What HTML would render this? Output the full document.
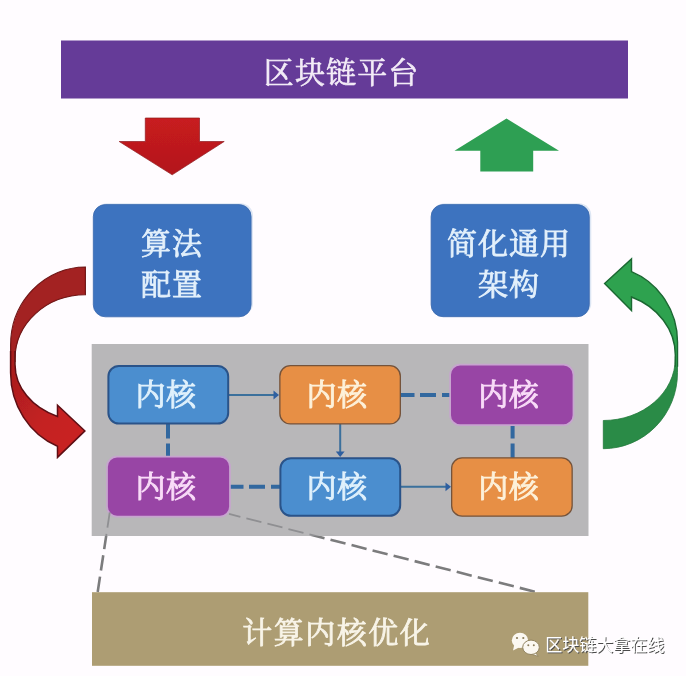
<!DOCTYPE html>
<html lang="zh-CN">
<head>
<meta charset="utf-8">
<title>区块链平台</title>
<style>
  html, body { margin: 0; padding: 0; background: #fffcff; }
  body { width: 686px; height: 676px; overflow: hidden; position: relative; }
  svg { display: block; position: absolute; left: 0; top: 0; }
  .serif { font-family: "Liberation Serif", "Noto Serif CJK SC", serif; }
  .sans { font-family: "Liberation Sans", "Noto Sans CJK SC", sans-serif; }
</style>
</head>
<body>
<svg width="686" height="676" viewBox="0 0 686 676">
  <defs>
    <linearGradient id="gRed" x1="0" y1="0" x2="0" y2="1">
      <stop offset="0" stop-color="#c81b20"/>
      <stop offset="1" stop-color="#b3171b"/>
    </linearGradient>
    <linearGradient id="gRedC" x1="0" y1="0" x2="1" y2="1">
      <stop offset="0" stop-color="#a51d1d"/>
      <stop offset="0.55" stop-color="#c42122"/>
      <stop offset="1" stop-color="#cb2323"/>
    </linearGradient>
    <clipPath id="below"><rect x="0" y="536" width="686" height="140"/></clipPath>
    <clipPath id="inpanel"><rect x="0" y="500" width="686" height="36"/></clipPath>
    <filter id="wm" x="-5%" y="-20%" width="110%" height="140%">
      <feMorphology in="SourceAlpha" operator="dilate" radius="0.35" result="fat"/>
      <feOffset in="fat" dx="0.8" dy="0.9" result="off"/>
      <feFlood flood-color="#4c4c4c" result="col"/>
      <feComposite in="col" in2="off" operator="in" result="shadow"/>
      <feMerge result="m"><feMergeNode in="shadow"/><feMergeNode in="SourceGraphic"/></feMerge>
      <feGaussianBlur in="m" stdDeviation="0.4"/>
    </filter>
    <filter id="soft" x="-5%" y="-5%" width="110%" height="110%">
      <feGaussianBlur stdDeviation="0.45"/>
    </filter>
  </defs>
  <rect x="0" y="0" width="686" height="676" fill="#fffcff"/>

  <g filter="url(#soft)">
  <!-- top banner -->
  <rect x="61" y="40.5" width="567" height="58" fill="#653b98"/>

  <!-- straight arrows -->
  <polygon points="145.3,118 199.5,118 199.5,141.5 224.2,141.5 172.2,174.8 119.2,141.5 145.3,141.5" fill="url(#gRed)" stroke="#8f1a1c" stroke-width="0.7"/>
  <polygon points="506.5,118.6 559,150.7 533.2,150.7 533.2,171.5 480.3,171.5 480.3,150.7 454.5,150.7" fill="#2f9f52"/>

  <!-- big blue boxes -->
  <rect x="94.6" y="203.2" width="158.4" height="112.6" rx="12.5" ry="12.5" fill="#dde6f4"/>
  <rect x="432.4" y="203.2" width="158.9" height="112.6" rx="12.5" ry="12.5" fill="#dde6f4"/>
  <rect x="93.3" y="204.6" width="157.8" height="112.2" rx="12" ry="12" fill="#3d73bf" stroke="#3a68ad" stroke-width="0.8"/>
  <rect x="431.1" y="204.6" width="158.2" height="112.1" rx="12" ry="12" fill="#3d73bf" stroke="#3a68ad" stroke-width="0.8"/>

  <!-- curved arrows -->
  <path d="M15.0,362.0 L15.0,359.0 A70.4,64.3 0 0 1 85.4,294.7 L85.4,267.0 A74.8,78.0 0 0 0 10.6,345.0 L10.6,362.0" fill="#a32020" stroke="#6e1516" stroke-width="1.1" stroke-linejoin="miter"/>
  <path d="M10.6,351.0 L10.6,372.7 A74.8,79.2 0 0 0 57.5,446.2 L57.5,457.4 L84.9,430.9 L57.5,405.3 L57.5,416.5 A70.4,56.8 0 0 1 15.0,364.4 L15.0,351.0" fill="url(#gRedC)" stroke="#5e1013" stroke-width="1.5" stroke-linejoin="miter"/>
  <path d="M675.3,356.5 L675.3,358.5 A72.0,62.0 0 0 1 603.3,420.5 L603.3,448.7 A74.2,76.0 0 0 0 677.5,372.7 L677.5,356.5" fill="#2a8b46" stroke="#237a3c" stroke-width="0.8" stroke-linejoin="miter"/>
  <path d="M677.5,366.7 L677.5,342.0 A74.2,76.0 0 0 0 631.5,271.7 L631.5,258.9 L604.6,283.5 L631.5,310.6 L631.5,297.0 A72.0,63.0 0 0 1 675.3,355.0 L675.3,366.7" fill="#2fa24f" stroke="#1a6731" stroke-width="1.4" stroke-linejoin="miter"/>

  <!-- gray panel -->
  <rect x="91.7" y="344" width="496.8" height="192" fill="#b8b7b9"/>

  <!-- connectors -->
  <g stroke="#3a6f9c" fill="none" stroke-width="2">
    <line x1="229" y1="395" x2="275" y2="395"/>
    <line x1="401" y1="486.8" x2="447" y2="486.8"/>
    <line x1="340.2" y1="424" x2="340.2" y2="453"/>
  </g>
  <g stroke="#33679f" fill="none" stroke-width="4">
    <line x1="400.5" y1="395" x2="451" y2="395" stroke-dasharray="14 5.5 16 6 12"/>
    <line x1="229.5" y1="486.8" x2="280" y2="486.8" stroke-dasharray="14 5.5 16 6 12"/>
    <line x1="168" y1="424" x2="168" y2="458" stroke-dasharray="14.5 5"/>
    <line x1="512.6" y1="424" x2="512.6" y2="458" stroke-dasharray="14.5 5"/>
  </g>
  <g fill="#2f5fa0">
    <polygon points="279,395 273.5,390.6 273.5,399.4"/>
    <polygon points="451,486.8 445.5,482.4 445.5,491.2"/>
    <polygon points="340.2,457 335.8,451.5 344.6,451.5"/>
  </g>

  <!-- kernel boxes -->
  <rect x="108.40" y="366.00" width="119.80" height="57.60" rx="10.5" ry="10.5" fill="#4b8ecf" stroke="#2a5389" stroke-width="2.0"/>
  <rect x="279.85" y="365.65" width="120.50" height="58.30" rx="10.5" ry="10.5" fill="#e78f45" stroke="#75533a" stroke-width="1.3"/>
  <rect x="450.15" y="364.65" width="123.30" height="60.50" rx="10" ry="10" fill="#9845a5" stroke="#c7a4cf" stroke-width="1.7"/>
  <rect x="107.05" y="456.65" width="122.90" height="59.90" rx="10" ry="10" fill="#9845a5" stroke="#c7a4cf" stroke-width="1.7"/>
  <rect x="280.40" y="458.20" width="119.80" height="57.60" rx="10.5" ry="10.5" fill="#4b8ecf" stroke="#2a5389" stroke-width="2.0"/>
  <rect x="451.65" y="457.85" width="120.50" height="58.30" rx="10.5" ry="10.5" fill="#e78f45" stroke="#75533a" stroke-width="1.3"/>

  <!-- gray dashed callout lines -->
  <g stroke="#7b7b7d" stroke-width="2.6" fill="none" stroke-dasharray="15.5 6.2" clip-path="url(#below)">
    <line x1="97.7" y1="592" x2="110.4" y2="508"/>
    <line x1="534.8" y1="591.7" x2="229" y2="513.9"/>
  </g>
  <g stroke="#8f8f92" stroke-width="1.8" fill="none" stroke-dasharray="15.5 6.2" clip-path="url(#inpanel)">
    <line x1="97.7" y1="592" x2="110.4" y2="508"/>
    <line x1="534.8" y1="591.7" x2="229" y2="513.9"/>
  </g>

  <!-- bottom bar -->
  <rect x="92" y="592.2" width="496.3" height="73.6" fill="#ad9d73"/>
  </g>

  <!-- text -->
  <g class="serif" text-anchor="middle" filter="url(#soft)">
    <text x="341.6" y="83" font-size="30" letter-spacing="1.1" fill="#f3ecf7" stroke="#f3ecf7" stroke-width="0.6">区块链平台</text>
    <g fill="#e3f0fb" stroke="#e3f0fb" stroke-width="0.8" font-size="30" letter-spacing="1">
      <text x="172" y="253.6">算法</text>
      <text x="172" y="295.3">配置</text>
      <text x="509" y="253.6">简化通用</text>
      <text x="509" y="295.3">架构</text>
    </g>
    <text x="166.0" y="405.0" font-size="30" letter-spacing="0.6" fill="#e0f1fc" stroke="#e0f1fc" stroke-width="0.9">内核</text>
    <text x="337.0" y="405.0" font-size="30" letter-spacing="0.6" fill="#fdf1da" stroke="#fdf1da" stroke-width="0.9">内核</text>
    <text x="508.8" y="405.0" font-size="30" letter-spacing="0.6" fill="#f9dcf8" stroke="#f9dcf8" stroke-width="0.9">内核</text>
    <text x="166.0" y="497.0" font-size="30" letter-spacing="0.6" fill="#f9dcf8" stroke="#f9dcf8" stroke-width="0.9">内核</text>
    <text x="337.0" y="497.0" font-size="30" letter-spacing="0.6" fill="#e0f1fc" stroke="#e0f1fc" stroke-width="0.9">内核</text>
    <text x="508.8" y="497.0" font-size="30" letter-spacing="0.6" fill="#fdf1da" stroke="#fdf1da" stroke-width="0.9">内核</text>
    <text x="336.8" y="643" font-size="30" letter-spacing="1.5" fill="#f8f4e8" stroke="#f8f4e8" stroke-width="0.8">计算内核优化</text>
  </g>

  <!-- watermark -->
  <g filter="url(#soft)">
    <ellipse cx="520" cy="640.4" rx="8.2" ry="7.6" fill="#fbf8f1"/>
    <polygon points="514.2,645 513,650.6 519,647.4" fill="#fbf8f1"/>
    <polygon points="535.5,652.5 538.2,656.3 531.5,654.3" fill="#fbf8f1" stroke="#91835f" stroke-width="0.8"/>
    <ellipse cx="531" cy="647.3" rx="8.3" ry="7.2" fill="#fbf8f1" stroke="#91835f" stroke-width="1"/>
    <circle cx="517" cy="638" r="1.1" fill="#8a7c5a"/>
    <circle cx="523.3" cy="638" r="1.1" fill="#8a7c5a"/>
    <circle cx="528.3" cy="645.3" r="1" fill="#8a7c5a"/>
    <circle cx="533.8" cy="645.3" r="1" fill="#8a7c5a"/>
  </g>
  <text class="sans" x="545.2" y="651" font-size="17" fill="#ffffff" filter="url(#wm)">区块链大拿在线</text>
</svg>
</body>
</html>
